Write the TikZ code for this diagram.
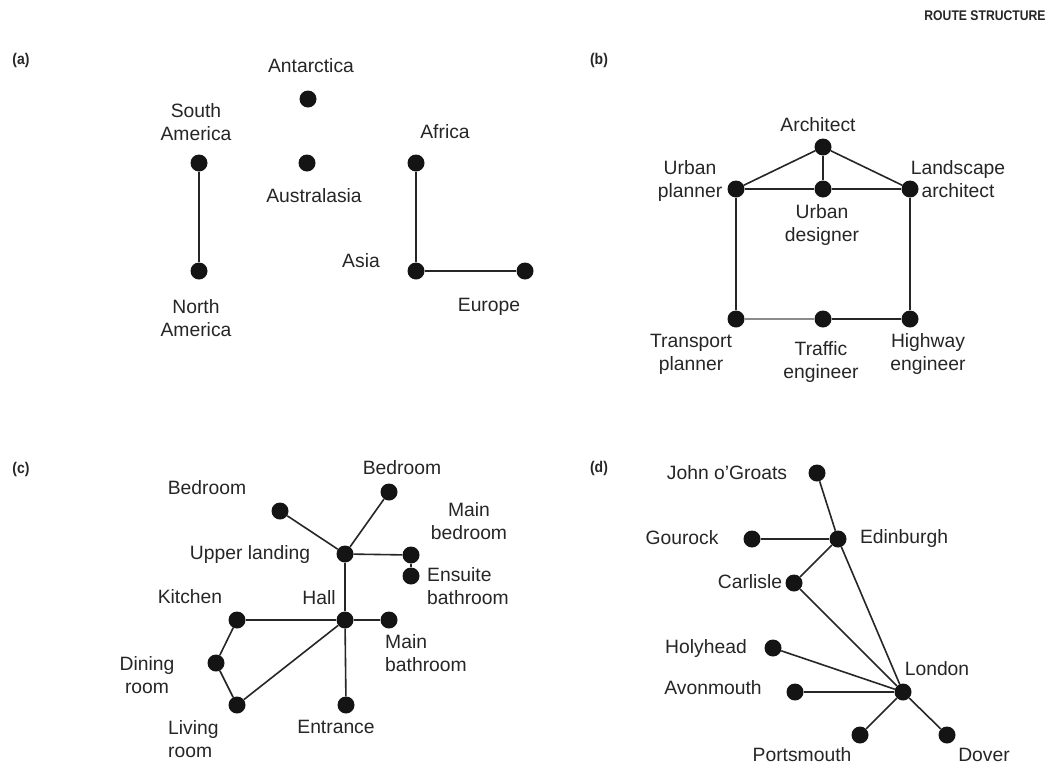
\documentclass[tikz,border=0pt]{standalone}
\usepackage{fontspec}
\setmainfont{Liberation Sans}
\newcommand{\LB}{\strut\\\strut}
\definecolor{ink}{HTML}{262626}
\begin{document}
\begin{tikzpicture}[x=1pt,y=-1pt,
  dot/.style={circle,fill=black!92,inner sep=0pt,minimum size=17pt},
  lab/.style={font=\fontsize{19.3}{23}\selectfont,text=ink,inner sep=0pt,align=center,execute at begin node=\strut},
  labl/.style={lab,align=left,anchor=west},
  panel/.style={font=\fontsize{15.5}{17}\selectfont\bfseries,text=ink,inner sep=0pt},
  edge/.style={draw=black!85,line width=1.6pt},
  lightedge/.style={draw=black!45,line width=1.6pt},
]
\useasboundingbox (0,0) rectangle (1052,766);
\fill[white] (0,0) rectangle (1052,766);

% title and panel letters
\node[panel,font=\fontsize{14}{16}\selectfont\bfseries] (title) at (985,16) {\scalebox{0.87}[1]{ROUTE STRUCTURE}};
\node[panel] (pa) at (21,60) {\scalebox{0.9}[1]{(a)}};
\node[panel] (pb) at (599,60) {\scalebox{0.9}[1]{(b)}};
\node[panel] (pc) at (21,469) {\scalebox{0.9}[1]{(c)}};
\node[panel] (pd) at (599,468) {\scalebox{0.9}[1]{(d)}};

% ---------- (a)
\node[dot] (ant) at (308,99) {};
\node[dot] (sam) at (199,163) {};
\node[dot] (aus) at (307,163) {};
\node[dot] (afr) at (416,163) {};
\node[dot] (nam) at (199,271) {};
\node[dot] (asi) at (416,271) {};
\node[dot] (eur) at (525,271) {};
\draw[edge] (sam) -- (nam);
\draw[edge] (afr) -- (asi);
\draw[edge] (asi) -- (eur);
\node[lab] (lant) at (311,68) {Antarctica};
\node[lab] (lsam) at (196,124) {South\LB America};
\node[lab] (laus) at (314,198) {Australasia};
\node[lab] (lafr) at (445,134) {Africa};
\node[lab] (lnam) at (196,320) {North\LB America};
\node[lab] (lasi) at (361,263) {Asia};
\node[lab] (leur) at (489,307) {Europe};

% ---------- (b)
\node[dot] (arc) at (823,147) {};
\node[dot] (upl) at (736,189) {};
\node[dot] (ude) at (823,189) {};
\node[dot] (lar) at (910,189) {};
\node[dot] (tpl) at (736,319) {};
\node[dot] (ten) at (823,319) {};
\node[dot] (hen) at (910,319) {};
\draw[edge] (arc) -- (upl);
\draw[edge] (arc) -- (ude);
\draw[edge] (arc) -- (lar);
\draw[edge] (upl) -- (ude);
\draw[edge] (ude) -- (lar);
\draw[edge] (upl) -- (tpl);
\draw[edge] (lar) -- (hen);
\draw[lightedge] (tpl) -- (ten);
\draw[edge] (ten) -- (hen);
\node[lab] (larc) at (818,127) {Architect};
\node[lab] (lupl) at (690,181) {Urban\LB planner};
\node[lab] (lude) at (822,225) {Urban\LB designer};
\node[lab] (llar) at (958,181) {Landscape\LB architect};
\node[lab] (ltpl) at (691,354.5) {Transport\LB planner};
\node[lab] (lten) at (821,362.5) {Traffic\LB engineer};
\node[lab] (lhen) at (928,354.5) {Highway\LB engineer};

% ---------- (c)
\node[dot] (bedl) at (280,511) {};
\node[dot] (bedt) at (389,492) {};
\node[dot] (ula) at (345,554) {};
\node[dot] (mbe) at (411,555) {};
\node[dot] (ens) at (411,576) {};
\node[dot] (hal) at (345,620) {};
\node[dot] (kit) at (237,620) {};
\node[dot] (mba) at (389,620) {};
\node[dot] (din) at (216,663) {};
\node[dot] (liv) at (237,705) {};
\node[dot] (ent) at (346,705) {};
\draw[edge] (bedl) -- (ula);
\draw[edge] (bedt) -- (ula);
\draw[edge] (ula) -- (mbe);
\draw[edge] (mbe) -- (ens);
\draw[edge] (ula) -- (hal);
\draw[edge] (hal) -- (kit);
\draw[edge] (hal) -- (mba);
\draw[edge] (hal) -- (ent);
\draw[edge] (hal) -- (liv);
\draw[edge] (kit) -- (din);
\draw[edge] (din) -- (liv);
\node[lab] (lbedl) at (207,490) {Bedroom};
\node[lab] (lbedt) at (402,470) {Bedroom};
\node[lab] (lula) at (250,555) {Upper landing};
\node[lab] (lmbe) at (469,523.5) {Main\LB bedroom};
\node[labl] (lens) at (427,588.5) {Ensuite\LB bathroom};
\node[lab] (lhal) at (319,600) {Hall};
\node[lab] (lkit) at (190,599) {Kitchen};
\node[labl] (lmba) at (385,655) {Main\LB bathroom};
\node[lab] (ldin) at (147,677) {Dining\LB room};
\node[labl] (lliv) at (168,741.5) {Living\LB room};
\node[lab] (lent) at (336,729) {Entrance};

% ---------- (d)
\node[dot] (jog) at (817,473) {};
\node[dot] (gou) at (752,539) {};
\node[dot] (edi) at (838,539) {};
\node[dot] (car) at (794,583) {};
\node[dot] (hol) at (773,648) {};
\node[dot] (lon) at (903,692) {};
\node[dot] (avo) at (795,692) {};
\node[dot] (por) at (860,735) {};
\node[dot] (dov) at (947,735) {};
\draw[edge] (jog) -- (edi);
\draw[edge] (gou) -- (edi);
\draw[edge] (edi) -- (car);
\draw[edge] (edi) -- (lon);
\draw[edge] (car) -- (lon);
\draw[edge] (hol) -- (lon);
\draw[edge] (avo) -- (lon);
\draw[edge] (lon) -- (por);
\draw[edge] (lon) -- (dov);
\node[lab] (ljog) at (727,475) {John o’Groats};
\node[lab] (lgou) at (682,540) {Gourock};
\node[lab] (ledi) at (904,539) {Edinburgh};
\node[lab] (lcar) at (750,584) {Carlisle};
\node[lab] (lhol) at (706,649) {Holyhead};
\node[lab] (llon) at (937,671) {London};
\node[lab] (lavo) at (713,690) {Avonmouth};
\node[lab] (lpor) at (802,757) {Portsmouth};
\node[lab] (ldov) at (984,757) {Dover};
\end{tikzpicture}
\end{document}
